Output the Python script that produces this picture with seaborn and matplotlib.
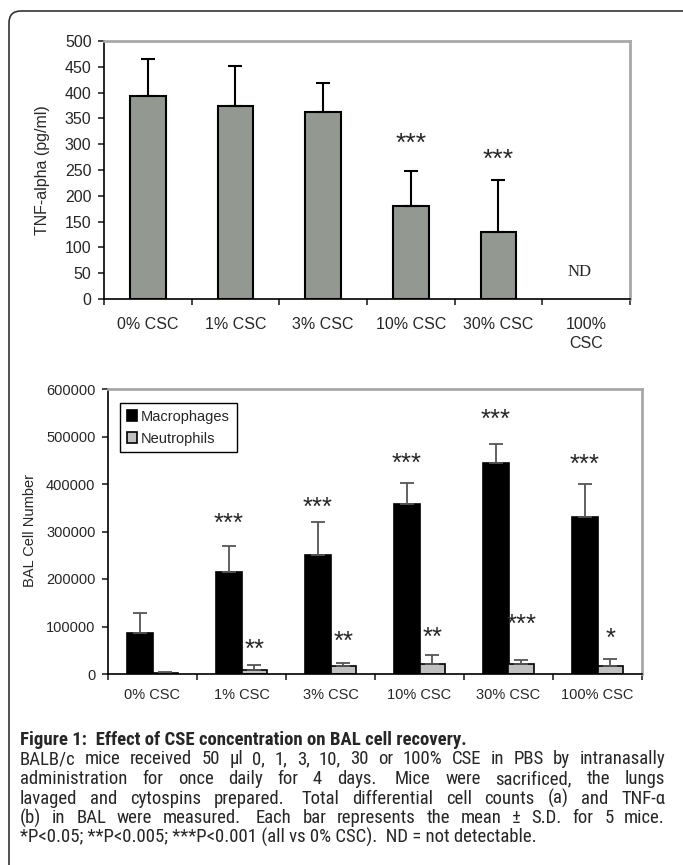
import os
import numpy as np
import pandas as pd
import matplotlib
matplotlib.use('Agg')
import matplotlib.pyplot as plt
from matplotlib.patches import FancyBboxPatch
from matplotlib import font_manager
from matplotlib.font_manager import FontProperties
import seaborn as sns

# data
groups = ['0% CSC', '1% CSC', '3% CSC', '10% CSC', '30% CSC', '100% CSC']
tnf_labels = ['0% CSC', '1% CSC', '3% CSC', '10% CSC', '30% CSC', '100%\nCSC']
tnf_mean = [393, 374, 363, 180, 129, np.nan]   # 100% = not detectable
tnf_sd = [73, 77, 56, 68, 102, np.nan]
tnf_stars = ['', '', '', '***', '***', '']
tnf_star_y = [0, 0, 0, 309, 278, 0]

cell_types = ['Macrophages', 'Neutrophils']
macro_mean = [87000, 214000, 250000, 358000, 444000, 330000]
macro_sd = [41000, 55000, 71000, 45000, 41000, 69000]
neutro_mean = [1500, 8300, 16000, 21500, 22000, 16000]
neutro_sd = [2500, 9700, 8000, 17500, 8000, 16000]
macro_stars = ['', '***', '***', '***', '***', '***']
macro_star_y = [0, 325000, 357000, 450000, 544000, 448000]
neutro_stars = ['', '**', '**', '**', '***', '*']
neutro_star_y = [0, 58000, 76000, 85000, 112000, 83000]

caption_head = 'Figure 1:  Effect of CSE concentration on BAL cell recovery.'
caption_lines = [
    'BALB/c mice received 50 \u00b5l 0, 1, 3, 10, 30 or 100% CSE in PBS by intranasally',
    'administration for once daily for 4 days.  Mice were sacrificed, the lungs',
    'lavaged and cytospins prepared.  Total differential cell counts (a) and TNF-\u03b1',
    '(b) in BAL were measured.  Each bar represents the mean \u00b1 S.D. for 5 mice.',
    '*P<0.05; **P<0.005; ***P<0.001 (all vs 0% CSC).  ND = not detectable.',
]

sns.set_style('white')
plt.rcParams['font.family'] = ['Liberation Sans', 'DejaVu Sans']

W, H = 683, 865
fig = plt.figure(figsize=(W / 100, H / 100), dpi=100)


def style_axes(ax, tick_fs, xpad):
    for s in ['left', 'bottom']:
        ax.spines[s].set_color('black')
        ax.spines[s].set_linewidth(1.2)
    for s in ['top', 'right']:
        ax.spines[s].set_color('#a8a8a8')
        ax.spines[s].set_linewidth(2)
    ax.set_xlim(-0.5, 5.5)
    ax.set_xticks(range(6))
    ax.set_xticks(np.arange(-0.5, 6, 1), minor=True)
    ax.tick_params(axis='x', which='major', length=0, pad=xpad, labelsize=tick_fs)
    ax.tick_params(axis='x', which='minor', length=4, width=1.2, direction='out', bottom=True)
    ax.tick_params(axis='y', length=4, width=1.2, direction='out', left=True, pad=5, labelsize=tick_fs)
    ax.set_xlabel('')


def stars(ax, x, y, s, fs):
    ax.annotate(s, (x, y), xytext=(0, -0.42 * fs), textcoords='offset points',
                ha='center', va='baseline', fontsize=fs)


# ---- (b) TNF-alpha ----
ax1 = fig.add_axes([104 / W, 1 - 299 / H, 526 / W, 258 / H])
df_tnf = pd.DataFrame({'group': groups, 'tnf': tnf_mean})
sns.barplot(data=df_tnf, x='group', y='tnf', order=groups, color='#939890',
            width=0.41, edgecolor='black', linewidth=1.5, saturation=1,
            errorbar=None, ax=ax1)
ax1.errorbar(range(6), tnf_mean, yerr=[np.zeros(6), tnf_sd], fmt='none',
             ecolor='black', elinewidth=1.5, capsize=5, capthick=1.5, zorder=1)
ax1.set_ylim(0, 500)
ax1.set_yticks(np.arange(0, 501, 50))
style_axes(ax1, 11.5, 13)
ax1.set_xticklabels(tnf_labels, linespacing=1.3)
ax1.set_ylabel('TNF-alpha (pg/ml)', fontsize=11.5)
ax1.yaxis.set_label_coords(-0.103, 0.5)
for i, s in enumerate(tnf_stars):
    if s:
        stars(ax1, i, tnf_star_y[i], s, 19)
ax1.annotate('ND', (5, 52), xytext=(-5, 0), textcoords='offset points',
             ha='center', va='center', fontsize=12, family='Liberation Serif')

# ---- (a) BAL cells ----
ax2 = fig.add_axes([108 / W, 1 - 674 / H, 534 / W, 285 / H])
df_bal = pd.DataFrame({
    'group': groups * 2,
    'cell': [cell_types[0]] * 6 + [cell_types[1]] * 6,
    'count': macro_mean + neutro_mean,
})
sns.barplot(data=df_bal, x='group', y='count', hue='cell', order=groups,
            hue_order=cell_types, palette=['black', '#c0c0c0'], width=0.58,
            gap=0, edgecolor='black', linewidth=1.2, saturation=1,
            errorbar=None, legend=False, ax=ax2)
for cont, mean, sd, st, sy in [(ax2.containers[0], macro_mean, macro_sd, macro_stars, macro_star_y),
                               (ax2.containers[1], neutro_mean, neutro_sd, neutro_stars, neutro_star_y)]:
    xs = [b.get_x() + b.get_width() / 2 for b in cont]
    ax2.errorbar(xs, mean, yerr=[np.zeros(6), sd], fmt='none', ecolor='#555555',
                 elinewidth=1.3, capsize=5, capthick=1.3, zorder=1)
    for x, s, y in zip(xs, st, sy):
        if s:
            stars(ax2, x, y, s, 18.5)
ax2.set_ylim(0, 600000)
ax2.set_yticks(np.arange(0, 600001, 100000))
ax2.set_yticklabels([str(v) for v in range(0, 600001, 100000)])
style_axes(ax2, 10.5, 10)
ax2.set_xticklabels(groups)
ax2.set_ylabel('BAL Cell Number', fontsize=10.5)
ax2.yaxis.set_label_coords(-0.133, 0.505)
leg = ax2.legend(ax2.containers, cell_types, loc='upper left',
                 bbox_to_anchor=(12 / 534, 1 - 14 / 285), borderaxespad=0,
                 fontsize=10.5, handlelength=0.7, handleheight=0.7,
                 handletextpad=0.3, borderpad=0.45, labelspacing=0.55,
                 fancybox=False, framealpha=1)
leg.get_frame().set_edgecolor('black')
leg.get_frame().set_linewidth(1)

# ---- frame round the figure (right and bottom sides fall off the canvas) ----
fig.add_artist(FancyBboxPatch((0.09, -0.5), 8.0, 8.54 + 0.5,
                              boxstyle='round,pad=0,rounding_size=0.12',
                              transform=fig.dpi_scale_trans, fill=False,
                              edgecolor='#333333', linewidth=1.2))

# ---- caption, justified word by word ----
files = {os.path.basename(f.fname).lower(): f.fname for f in font_manager.fontManager.ttflist}


def pick(cands):
    for c in cands:
        if c.lower() in files:
            return files[c.lower()]
    return None


reg_file = pick(['LiberationSansNarrow-Regular.ttf', 'RobotoCondensed-Regular.ttf',
                 'DejaVuSansCondensed.ttf'])
bold_file = pick(['LiberationSansNarrow-Bold.ttf', 'RobotoCondensed-Bold.ttf',
                  'DejaVuSansCondensed-Bold.ttf'])


def cap_props(fs, weight):
    f = bold_file if weight == 'bold' else reg_file
    if f:
        return FontProperties(fname=f, size=fs)
    return FontProperties(family='Liberation Sans', weight=weight, size=fs)


r = fig.canvas.get_renderer()


def width_px(s, fs, weight='normal'):
    t = fig.text(0, 0, s, fontproperties=cap_props(fs, weight))
    w = t.get_window_extent(r).width
    t.remove()
    return w


x0, x1 = 20, 665
cap_fs = min(10 * 565 / width_px(caption_lines[-1], 10), 13.5)


def caption_line(y_px, line, justify, weight='normal'):
    fp = cap_props(cap_fs, weight)
    if not justify:
        fig.text(x0 / W, 1 - y_px / H, line, fontproperties=fp, va='center')
        return
    words = line.split()
    gaps = []
    rest = line
    for w in words[:-1]:
        rest = rest[rest.index(w) + len(w):]
        gaps.append(len(rest) - len(rest.lstrip(' ')))
    ww = [width_px(w, cap_fs, weight) for w in words]
    nat = width_px(line, cap_fs, weight)
    per_space = (nat - sum(ww)) / sum(gaps)
    extra = (x1 - x0 - nat) / len(gaps)
    x = x0
    for i, w in enumerate(words):
        fig.text(x / W, 1 - y_px / H, w, fontproperties=fp, va='center')
        if i < len(gaps):
            x += ww[i] + per_space * gaps[i] + extra


caption_line(740, caption_head, False, weight='bold')
for k, line in enumerate(caption_lines):
    caption_line(759.5 + 19.5 * k, line, k < len(caption_lines) - 1)

fig.savefig('out.png', dpi=100)
